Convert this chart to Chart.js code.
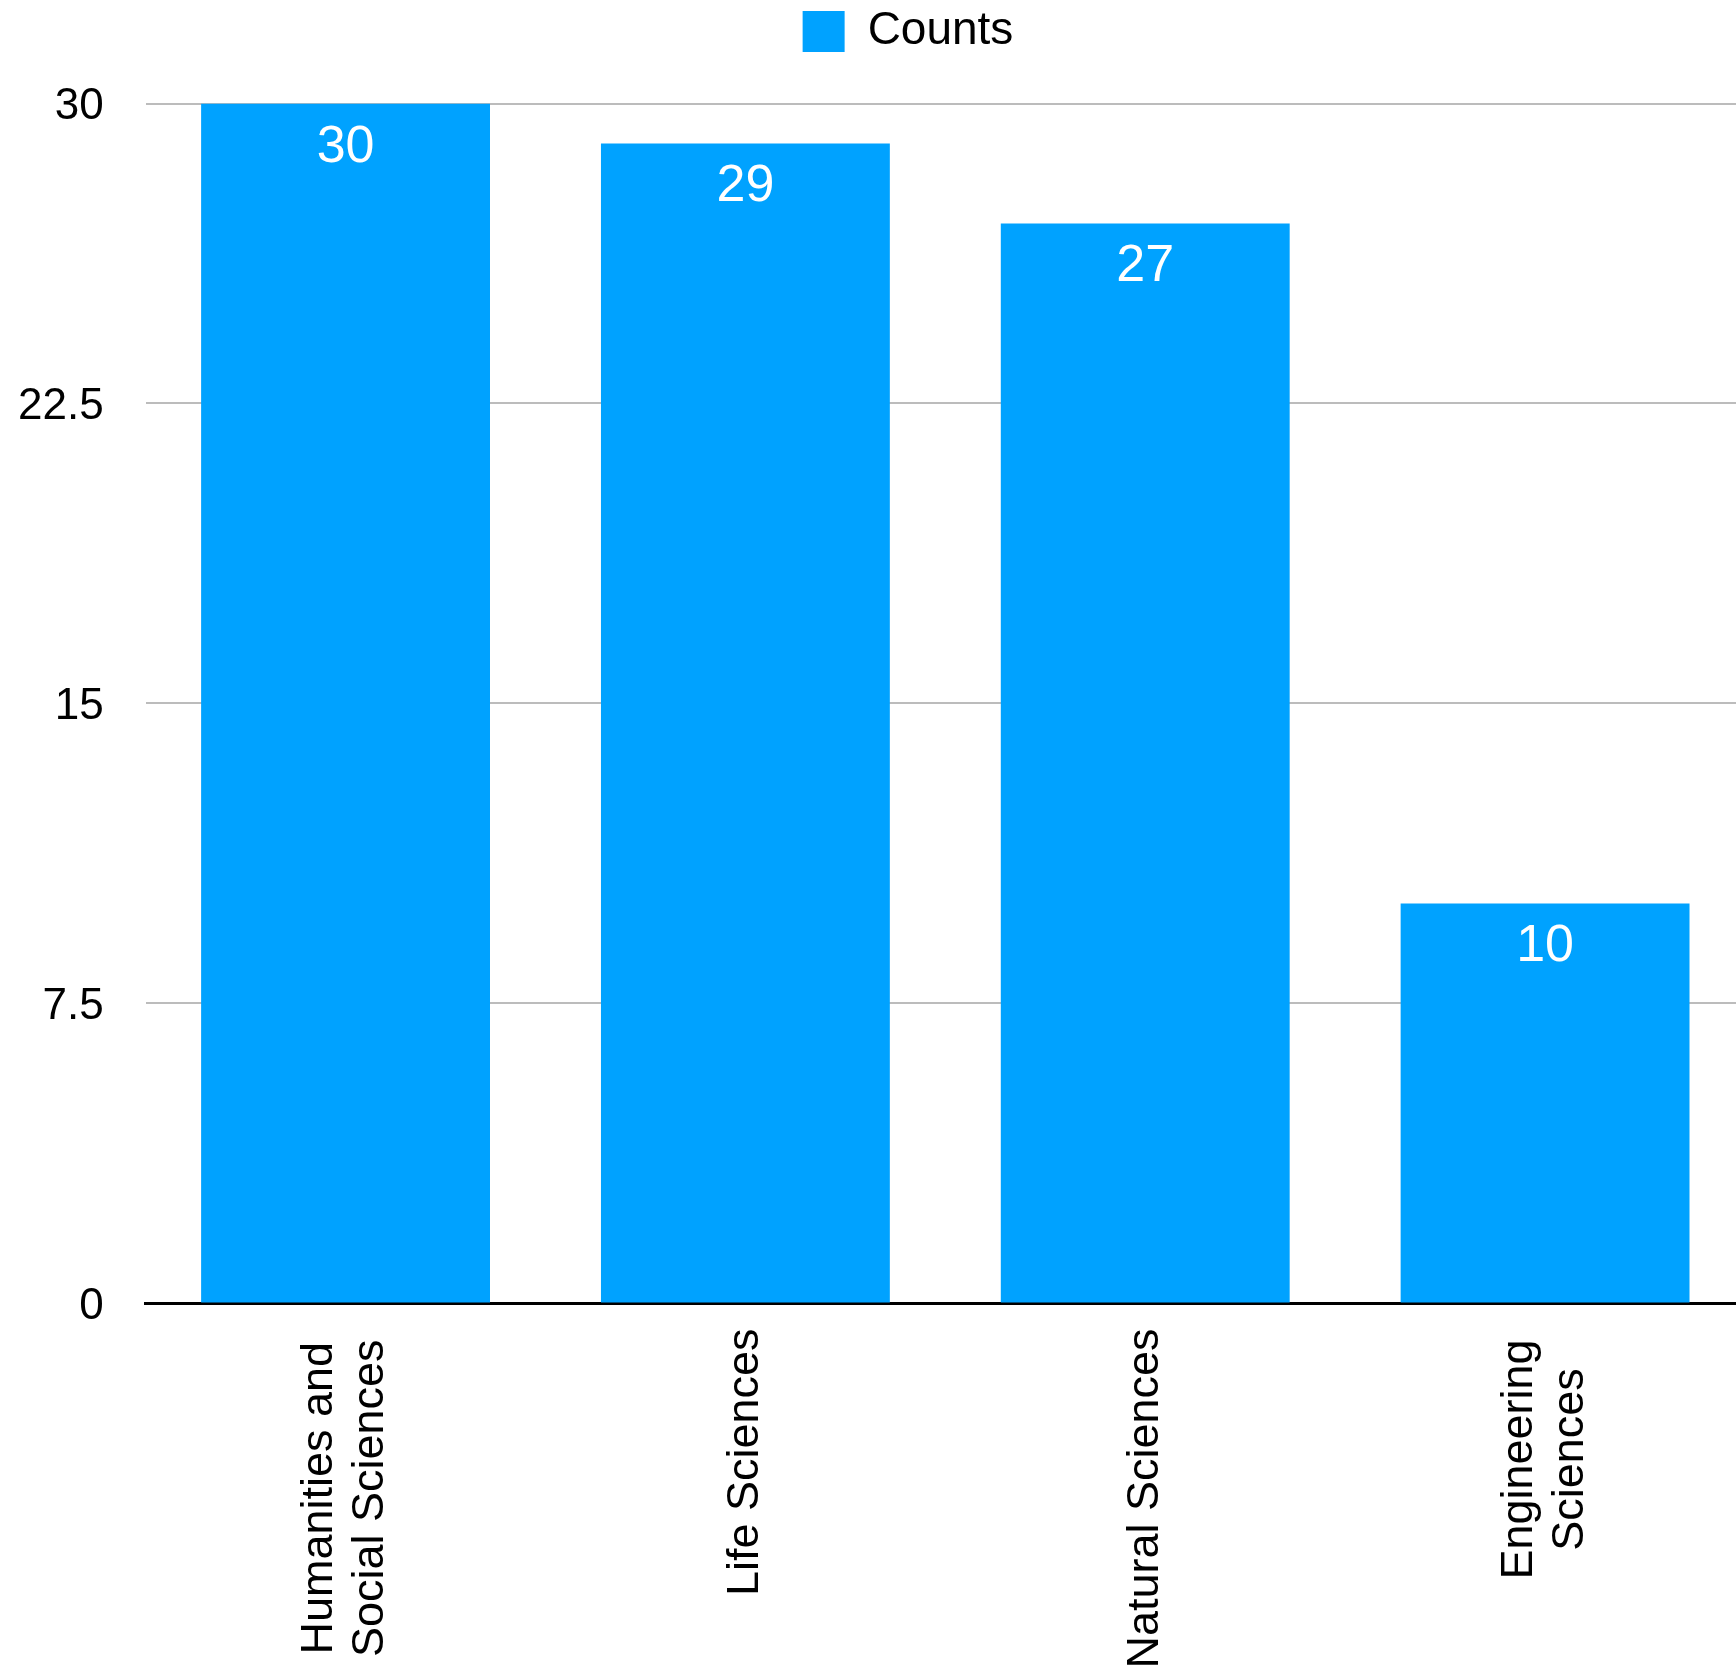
<!DOCTYPE html>
<html>
<head>
<meta charset="utf-8">
<script src="https://cdn.jsdelivr.net/npm/chart.js@4.4.1/dist/chart.umd.min.js"></script>
<style>
  html, body { margin: 0; padding: 0; background: #fff; overflow: hidden; }
  /* plot runs a few px past the right edge of the window, as in the original */
  #wrap { width: 1745px; height: 1674px; position: relative; }
</style>
</head>
<body>
<div id="wrap"><canvas id="countsChart"></canvas></div>
<script>
const categories = [["Humanities and", "Social Sciences"], "Life Sciences", "Natural Sciences", ["Engineering", "Sciences"]];
const counts = [30, 29, 27, 10];
const yTickValues = [0, 7.5, 15, 22.5, 30];
const seriesName = "Counts";

const barColor = "#00a2ff";
const fontFamily = '"Liberation Sans", Arial, Helvetica, sans-serif';

Chart.defaults.font.family = fontFamily;
Chart.defaults.color = "#000";

// white value labels near the top of each bar
const valueLabels = {
  id: "valueLabels",
  afterDatasetsDraw(chart) {
    const ctx = chart.ctx;
    const meta = chart.getDatasetMeta(0);
    ctx.save();
    ctx.font = "52px " + fontFamily;
    ctx.fillStyle = "#fff";
    ctx.textAlign = "center";
    ctx.textBaseline = "alphabetic";
    meta.data.forEach((bar, i) => {
      ctx.fillText(String(counts[i]), bar.x, bar.y + 58);
    });
    ctx.restore();
  }
};

// rotated category labels, multi-line ones centred on the tick
const categoryLabels = {
  id: "categoryLabels",
  afterDraw(chart) {
    const ctx = chart.ctx;
    const xScale = chart.scales.x;
    const lineHeight = 51;
    ctx.save();
    ctx.font = "45px " + fontFamily;
    ctx.fillStyle = "#000";
    ctx.textAlign = "center";
    ctx.textBaseline = "middle";
    categories.forEach((label, i) => {
      const lines = Array.isArray(label) ? label : [label];
      const widest = Math.max(...lines.map(l => ctx.measureText(l).width));
      const cy = xScale.top + 25 + (lines.length - 1) * 11 + widest / 2;
      const x0 = xScale.getPixelForTick(i);
      lines.forEach((line, j) => {
        ctx.save();
        ctx.translate(x0 + (j - (lines.length - 1) / 2) * lineHeight, cy);
        ctx.rotate(-Math.PI / 2);
        ctx.fillText(line, 0, 0);
        ctx.restore();
      });
    });
    ctx.restore();
  }
};

// extra room under the legend, and legend a bit right of the canvas centre
const legendSpace = {
  id: "legendSpace",
  beforeInit(chart) {
    const origFit = chart.legend.fit;
    chart.legend.fit = function () {
      origFit.call(this);
      this.height += 39;
    };
  },
  afterLayout(chart) {
    const legend = chart.legend;
    legend.left = 2 * 908 - legend.right;
  }
};

new Chart(document.getElementById("countsChart"), {
  type: "bar",
  data: {
    labels: categories,
    datasets: [{
      label: seriesName,
      data: counts,
      backgroundColor: barColor,
      borderWidth: 0,
      barPercentage: 0.7225,
      categoryPercentage: 1
    }]
  },
  options: {
    responsive: true,
    maintainAspectRatio: false,
    animation: false,
    layout: { padding: { left: -24, right: 0, top: 0, bottom: 12 } },
    plugins: {
      legend: {
        position: "top",
        labels: { boxWidth: 42, boxHeight: 41, padding: 8.5, font: { size: 46 } }
      },
      tooltip: { enabled: false }
    },
    scales: {
      x: {
        grid: { display: false, drawTicks: false },
        border: { display: true, color: "#000", width: 3 },
        ticks: {
          color: "transparent", // drawn by categoryLabels
          font: { size: 44 },
          minRotation: 90,
          maxRotation: 90,
          autoSkip: false,
          padding: 13
        }
      },
      y: {
        min: 0,
        max: 30,
        afterBuildTicks: scale => { scale.ticks = yTickValues.map(v => ({ value: v })); },
        grid: {
          color: ctx => (ctx.tick && ctx.tick.value === 0 ? "#000" : "#bcbcbc"),
          lineWidth: 2,
          drawTicks: false
        },
        border: { display: false },
        ticks: { font: { size: 44 }, padding: 42, labelOffset: 3 }
      }
    }
  },
  plugins: [valueLabels, categoryLabels, legendSpace]
});
</script>
</body>
</html>
